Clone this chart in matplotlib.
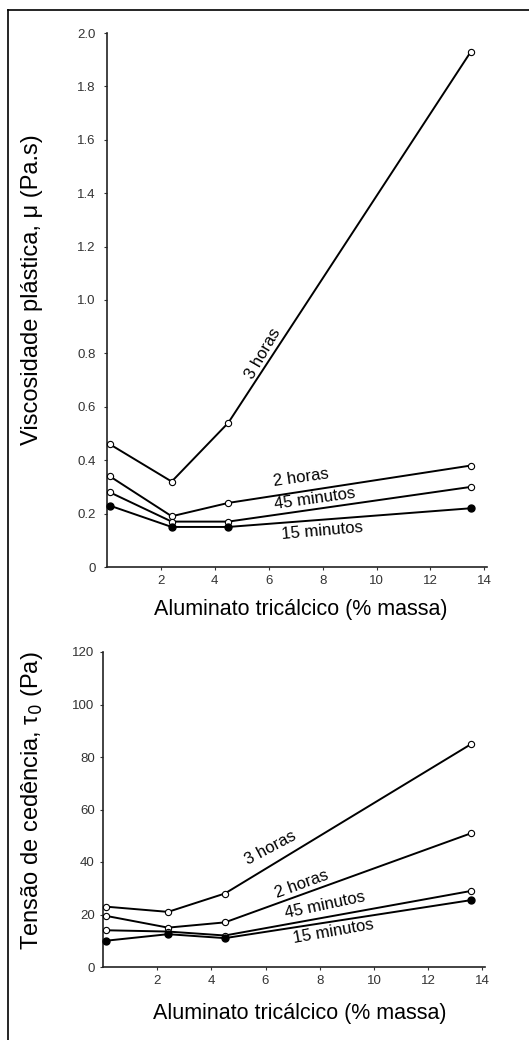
import matplotlib
matplotlib.use("Agg")
import matplotlib.pyplot as plt
from matplotlib.lines import Line2D

plt.rcParams['font.family'] = ['Liberation Sans', 'DejaVu Sans']

# Data
c3a = [0.1, 2.4, 4.5, 13.5]
series_names = ["3 horas", "2 horas", "45 minutos", "15 minutos"]
visc_3h = [0.46, 0.32, 0.54, 1.93]
visc_2h = [0.34, 0.19, 0.24, 0.38]
visc_45m = [0.28, 0.17, 0.17, 0.30]
visc_15m = [0.23, 0.15, 0.15, 0.22]

c3a_b = [0.1, 2.4, 4.5, 13.6]
yield_3h = [23, 21, 28, 85]
yield_2h = [19.5, 15, 17, 51]
yield_45m = [14, 13.5, 12, 29]
yield_15m = [10, 12.5, 11, 25.5]

top_yticks = [0, 0.2, 0.4, 0.6, 0.8, 1.0, 1.2, 1.4, 1.6, 1.8, 2.0]
bot_yticks = [0, 20, 40, 60, 80, 100, 120]
xticks = [2, 4, 6, 8, 10, 12, 14]

fig = plt.figure(figsize=(5.29, 10.40), dpi=100)
W, H = 529, 1040

def add_ax(l, t, r, b):
    return fig.add_axes([l / W, 1 - b / H, (r - l) / W, (b - t) / H])

ax1 = add_ax(107, 33, 487, 567)
ax2 = add_ax(103, 652, 485, 967)

line_kw = dict(color='black', lw=1.4)
open_m = dict(marker='o', ms=4.5, mfc='white', mec='black', mew=0.8)
fill_m = dict(marker='o', ms=5, mfc='black', mec='black')

for ax, xs, ys in [(ax1, c3a, [visc_3h, visc_2h, visc_45m, visc_15m]),
                   (ax2, c3a_b, [yield_3h, yield_2h, yield_45m, yield_15m])]:
    for i, y in enumerate(ys):
        mk = fill_m if i == 3 else open_m
        ax.plot(xs, y, clip_on=False, zorder=3, **line_kw, **mk)
    for s in ['top', 'right']:
        ax.spines[s].set_visible(False)
    for s in ['left', 'bottom']:
        ax.spines[s].set_linewidth(1.2)
        ax.spines[s].set_color('#222222')
    ax.set_xlim(0, 14.1)
    ax.set_xticks(xticks)
    ax.set_xticklabels([str(v) for v in xticks])
    ax.tick_params(axis='both', length=2, width=0.8, labelsize=9.5, colors='#333333')
    ax.set_facecolor('white')

ax1.set_ylim(0, 2.0)
ax1.set_yticks(top_yticks)
ax1.set_yticklabels(['0' if v == 0 else f"{v:.1f}" for v in top_yticks])
ax1.tick_params(axis='y', pad=6)
ax2.set_ylim(0, 120)
ax2.set_yticks(bot_yticks)
ax2.set_yticklabels([str(v) for v in bot_yticks])
ax2.tick_params(axis='y', pad=4)

ax1.set_ylabel("Viscosidade plástica, μ (Pa.s)", fontsize=17)
ax1.yaxis.set_label_coords(-0.168, 0.519)
ax2.set_ylabel("Tensão de cedência, τ$_0$ (Pa)", fontsize=17)
ax2.yaxis.set_label_coords(-0.152, 0.527)
ax1.set_xlabel("Aluminato tricálcico (% massa)", fontsize=15.5)
ax1.xaxis.set_label_coords(0.51, -0.06)
ax2.set_xlabel("Aluminato tricálcico (% massa)", fontsize=15.5)
ax2.xaxis.set_label_coords(0.515, -0.115)

# Series labels along lines
txt = dict(fontsize=12, ha='center', va='center')
ax1.text(5.8, 0.80, series_names[0], rotation=60, **txt)
ax1.text(7.2, 0.335, series_names[1], rotation=8, **txt)
ax1.text(7.7, 0.255, series_names[2], rotation=8, **txt)
ax1.text(8.0, 0.135, series_names[3], rotation=5, **txt)

ax2.text(6.2, 45.5, series_names[0], rotation=28, **txt)
ax2.text(7.35, 31.5, series_names[1], rotation=20, **txt)
ax2.text(8.2, 23.5, series_names[2], rotation=12, **txt)
ax2.text(8.5, 13.5, series_names[3], rotation=10, **txt)

# Frame lines of the figure
fig.add_artist(Line2D([8 / W, 8 / W], [0, 1 - 10 / H], transform=fig.transFigure, color='black', lw=1.2))
fig.add_artist(Line2D([8 / W, 1], [1 - 10 / H, 1 - 10 / H], transform=fig.transFigure, color='black', lw=1.2))

fig.savefig("out.png", dpi=100, facecolor='white')
